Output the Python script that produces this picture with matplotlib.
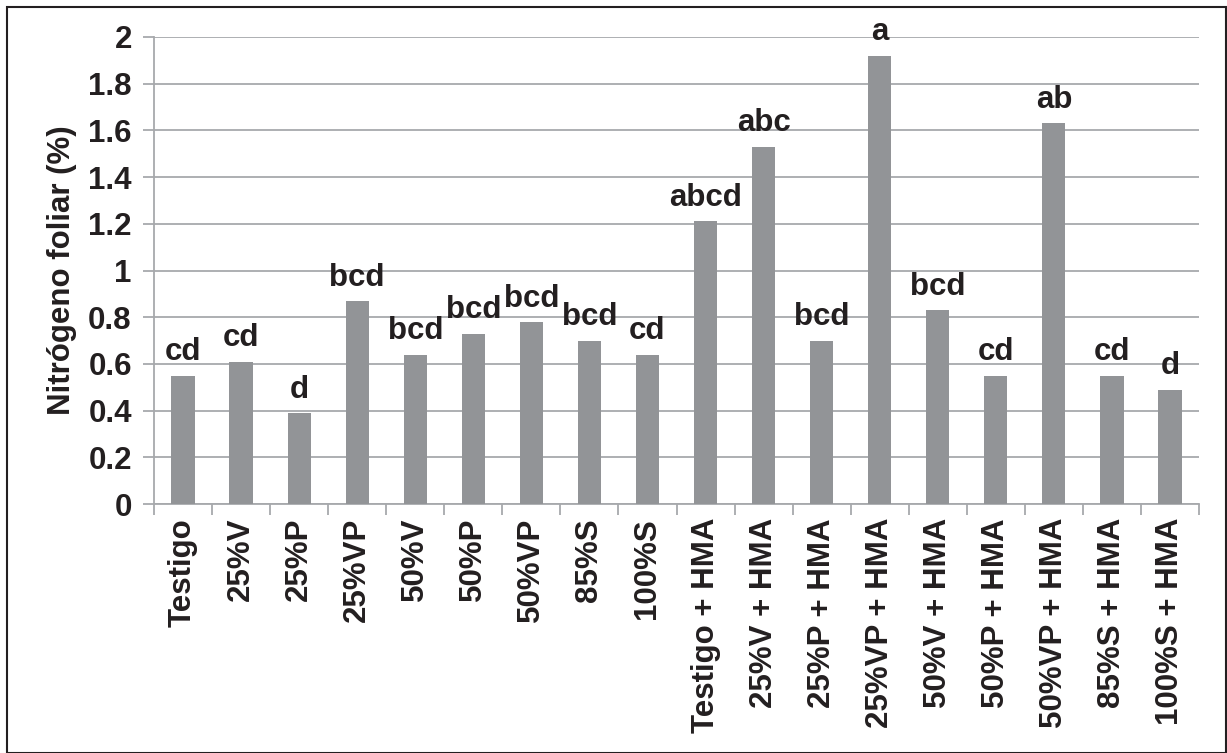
import numpy as np
import matplotlib.pyplot as plt
from matplotlib.patches import Rectangle

tratamientos = ['Testigo', '25%V', '25%P', '25%VP', '50%V', '50%P', '50%VP',
                '85%S', '100%S', 'Testigo + HMA', '25%V + HMA', '25%P + HMA',
                '25%VP + HMA', '50%V + HMA', '50%P + HMA', '50%VP + HMA',
                '85%S + HMA', '100%S + HMA']
nitrogeno = [0.55, 0.61, 0.39, 0.87, 0.64, 0.73, 0.78, 0.70, 0.64,
             1.21, 1.53, 0.70, 1.92, 0.83, 0.55, 1.63, 0.55, 0.49]
letras = ['cd', 'cd', 'd', 'bcd', 'bcd', 'bcd', 'bcd', 'bcd', 'cd',
          'abcd', 'abc', 'bcd', 'a', 'bcd', 'cd', 'ab', 'cd', 'd']

plt.rcParams['font.family'] = ['Liberation Sans', 'DejaVu Sans']
plt.rcParams['font.weight'] = 'bold'
fs = 22.5
negro = '#231f20'
gris = '#a7a9ac'

fig = plt.figure(figsize=(12.27, 7.53), dpi=100)
ax = fig.add_axes([154/1227, 1 - 504/753, (1199-154)/1227, (504-37)/753])

x = np.arange(len(tratamientos))
ax.bar(x, nitrogeno, width=0.4, color='#929497', zorder=3)

for xi, v, l in zip(x, nitrogeno, letras):
    ax.annotate(l, (xi, v), xytext=(0, 6), textcoords='offset points',
                ha='center', va='bottom', fontsize=fs, fontweight='bold',
                color=negro)

ax.set_xlim(-0.5, len(tratamientos) - 0.5)
ax.set_ylim(0, 2)
ax.set_yticks(np.arange(0, 2.01, 0.2))
ax.set_yticklabels(['0', '0.2', '0.4', '0.6', '0.8', '1', '1.2', '1.4',
                    '1.6', '1.8', '2'])
ax.yaxis.grid(True, color=gris, linewidth=1.3, zorder=0)
ax.tick_params(axis='y', length=8, width=1.3, color=gris,
               labelsize=fs, labelcolor=negro, pad=8)

# ticks between categories, labels centred under each bar
ax.set_xticks(np.arange(-0.5, len(tratamientos), 1.0))
ax.set_xticklabels([])
ax.set_xticks(x, minor=True)
ax.set_xticklabels(tratamientos, minor=True, rotation=90, fontsize=fs,
                   color=negro)
ax.tick_params(axis='x', which='major', length=8, width=1.3,
               color=gris, direction='out')
ax.tick_params(axis='x', which='minor', length=0, pad=10)

for s in ['top', 'right']:
    ax.spines[s].set_visible(False)
for s in ['left', 'bottom']:
    ax.spines[s].set_color(gris)
    ax.spines[s].set_linewidth(1.3)

ax.set_ylabel('Nitrógeno foliar (%)', fontsize=fs, fontweight='bold',
              color=negro, labelpad=8)

fig.patches.append(Rectangle((7/1227, 0), 1 - 8/1227, 1 - 7/753,
                             transform=fig.transFigure, fill=False,
                             edgecolor=negro, linewidth=1.5))

fig.savefig('out.png', dpi=100)
